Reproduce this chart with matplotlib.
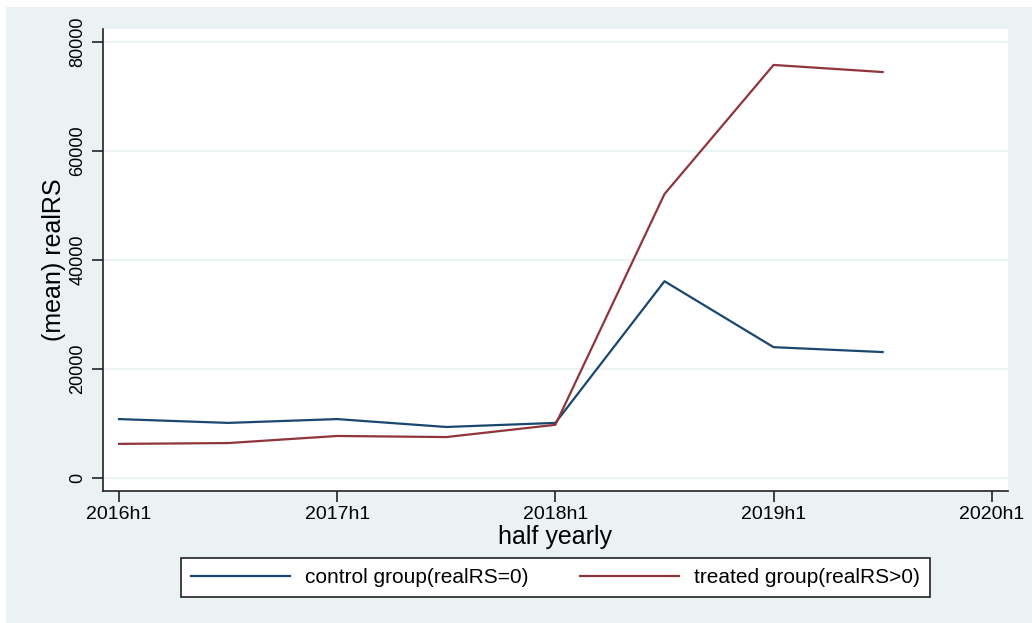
import matplotlib
matplotlib.use("Agg")
import matplotlib.pyplot as plt
from matplotlib.patches import Rectangle

plt.rcParams['font.family'] = ['Liberation Sans', 'DejaVu Sans']

# half-year periods
periods = ['2016h1', '2016h2', '2017h1', '2017h2', '2018h1', '2018h2', '2019h1', '2019h2']
tick_labels = ['2016h1', '2017h1', '2018h1', '2019h1', '2020h1']
control = [10800, 10100, 10800, 9350, 10100, 36100, 24000, 23100]
treated = [6250, 6400, 7700, 7500, 9750, 52100, 75800, 74500]
y_ticks = [0, 20000, 40000, 60000, 80000]

bg = '#eaf2f3'
navy = '#1a476f'
maroon = '#90353b'

fig = plt.figure(figsize=(10.32, 6.23), dpi=100, facecolor='white')
# stata-like outer region
fig.patches.append(Rectangle((6 / 1032, 0), 1 - 6 / 1032, 1 - 7 / 623,
                             transform=fig.transFigure, facecolor=bg,
                             edgecolor='none', zorder=-10))

ax = fig.add_axes([103 / 1032, 1 - 491 / 623, 905 / 1032, 462 / 623])
ax.set_zorder(1)
ax.set_facecolor('white')

x = list(range(len(periods)))
l1, = ax.plot(x, control, color=navy, lw=1.6, label='control group(realRS=0)')
l2, = ax.plot(x, treated, color=maroon, lw=1.6, label='treated group(realRS>0)')

ax.set_xlim(-0.147, 8.149)
ax.set_ylim(-2400, 82400)
ax.set_xticks([0, 2, 4, 6, 8])
ax.set_xticklabels(tick_labels, fontsize=14)
ax.set_yticks(y_ticks)
ax.set_yticklabels([str(v) for v in y_ticks], fontsize=13, rotation=90, va='center')
ax.grid(axis='y', color=bg, lw=1.5)
ax.set_axisbelow(True)

for s in ['top', 'right']:
    ax.spines[s].set_visible(False)
for s in ['left', 'bottom']:
    ax.spines[s].set_color('#222222')
    ax.spines[s].set_linewidth(1.2)
ax.tick_params(axis='both', length=8, width=1.2, color='#222222')
ax.tick_params(axis='y', pad=4)
ax.tick_params(axis='x', pad=3)

ax.set_xlabel('half yearly', fontsize=18)
ax.set_ylabel('(mean) realRS', fontsize=18)
ax.xaxis.set_label_coords(0.5, (491 - 537) / 462)
ax.xaxis.label.set_va('center')
ax.yaxis.set_label_coords((54 - 103) / 905, 0.5)
ax.yaxis.label.set_va('center')

leg = fig.legend(handles=[l1, l2], loc='center',
                 bbox_to_anchor=((182 + 929) / 2 / 1032, 1 - 577.5 / 623),
                 ncol=2, fontsize=15, frameon=True, fancybox=False,
                 framealpha=1, handlelength=4.75, columnspacing=2.5,
                 handletextpad=0.7, borderpad=0.5)
leg.get_frame().set_edgecolor('#222222')
leg.get_frame().set_facecolor('white')
leg.get_frame().set_linewidth(1.2)

fig.savefig('out.png', dpi=100, facecolor=fig.get_facecolor())
